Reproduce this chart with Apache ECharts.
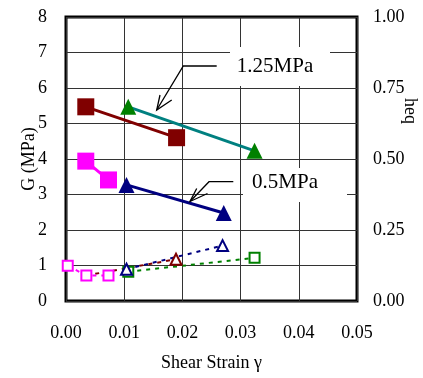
<!DOCTYPE html>
<html><head><meta charset="utf-8">
<script src="https://cdn.jsdelivr.net/npm/echarts@6/dist/echarts.min.js"></script>
<style>html,body{margin:0;padding:0;background:#fff}#c{width:423px;height:378px}</style>
</head><body><div id="c"></div>
<script>
// Shear modulus G (MPa) vs shear strain
const gRed = [[0.0034, 5.47], [0.0190, 4.60]];        // 1.25MPa, squares
const gGreen = [[0.0107, 5.47], [0.0324, 4.23]];      // 1.25MPa, triangles
const gMagenta = [[0.0034, 3.94], [0.0073, 3.41]];    // 0.5MPa, squares
const gNavy = [[0.0104, 3.27], [0.0271, 2.48]];       // 0.5MPa, triangles
// Damping ratio heq vs shear strain
const hMagenta = [[0.0003, 0.124], [0.0035, 0.090], [0.0073, 0.090]];
const hRed = [[0.0035, 0.090], [0.0189, 0.147]];
const hNavy = [[0.0104, 0.112], [0.0269, 0.195]];
const hGreen = [[0.0107, 0.103], [0.0324, 0.152]];
const xTicks = [0, 0.01, 0.02, 0.03, 0.04, 0.05];
const leftTicks = [0, 1, 2, 3, 4, 5, 6, 7, 8];
const rightTicks = [0, 0.25, 0.5, 0.75, 1];
const labels = ['1.25MPa', '0.5MPa'];

const FF = "'Liberation Serif','Times New Roman',serif";
const chart = echarts.init(document.getElementById('c'));
const lbl = {fontFamily: FF, fontSize: 18, color: '#000'};

function solid(data, lineColor, markColor, symbol, size) {
  return {type: 'line', yAxisIndex: 0, data: data, symbol: symbol, symbolSize: size,
    itemStyle: {color: markColor}, lineStyle: {color: lineColor, width: 3}, z: 5, animation: false};
}
function dotted(data, color, symbol, size) {
  return {type: 'line', yAxisIndex: 1, data: data, symbol: symbol, symbolSize: size,
    itemStyle: {color: color, borderWidth: 2}, lineStyle: {color: color, width: 2, type: [4, 5]}, z: 4, animation: false};
}
const hRedData = hRed.map((p, i) => i === 0 ? {value: p, symbol: 'none'} : {value: p});

chart.setOption({
  animation: false,
  grid: {left: 66, right: 66, top: 17, bottom: 77, outerBoundsMode: 'none', containLabel: false,
    show: true, borderColor: '#000', borderWidth: 3, backgroundColor: 'transparent'},
  xAxis: {type: 'value', min: xTicks[0], max: xTicks[xTicks.length - 1], interval: 0.01,
    axisLine: {show: false}, axisTick: {show: false},
    axisLabel: Object.assign({margin: 23, formatter: v => v.toFixed(2)}, lbl),
    splitLine: {show: true, lineStyle: {color: '#333', width: 1}},
    name: 'Shear Strain γ', nameLocation: 'middle', nameGap: 53, nameMoveOverlap: false, nameTextStyle: lbl},
  yAxis: [
    {type: 'value', min: leftTicks[0], max: leftTicks[leftTicks.length - 1], interval: 1,
      axisLine: {show: false}, axisTick: {show: false},
      axisLabel: Object.assign({margin: 19}, lbl),
      splitLine: {show: true, lineStyle: {color: '#333', width: 1}},
      name: 'G (MPa)', nameLocation: 'middle', nameGap: 28, nameMoveOverlap: false, nameTextStyle: lbl},
    {type: 'value', position: 'right', min: rightTicks[0], max: rightTicks[rightTicks.length - 1], interval: 0.25,
      axisLine: {show: false}, axisTick: {show: false},
      axisLabel: Object.assign({margin: 16, formatter: v => v.toFixed(2)}, lbl),
      splitLine: {show: false},
      name: 'heq', nameLocation: 'middle', nameGap: 44, nameRotate: -90, nameMoveOverlap: false,
      nameTextStyle: Object.assign({padding: [0, 96, 0, 0]}, lbl)}
  ],
  series: [
    dotted(hRedData, '#800000', 'emptyTriangle', 11),
    dotted(hMagenta, '#ff00ff', 'emptyRect', 10),
    dotted(hGreen, '#008000', 'emptyRect', 10),
    dotted(hNavy, '#000080', 'emptyTriangle', 11),
    solid(gRed, '#800000', '#800000', 'rect', 17),
    solid(gGreen, '#008080', '#008000', 'triangle', 16),
    solid(gMagenta, '#ff00ff', '#ff00ff', 'rect', 17),
    solid(gNavy, '#000080', '#000080', 'triangle', 16)
  ],
  graphic: [
    {type: 'rect', shape: {x: 230, y: 47, width: 100, height: 39}, style: {fill: '#fff'}, z: 10},
    {type: 'text', x: 275, y: 66, style: {text: labels[0], font: "21px " + FF, fill: '#000', align: 'center', verticalAlign: 'middle'}, z: 11},
    {type: 'polyline', shape: {points: [[216.7, 66], [183.3, 66], [156.7, 110]]}, style: {stroke: '#000', lineWidth: 1.3, fill: null}, z: 11},
    {type: 'polyline', shape: {points: [[160, 95], [156.7, 110], [171.7, 100]]}, style: {stroke: '#000', lineWidth: 1.3, fill: null}, z: 11},
    {type: 'rect', shape: {x: 243, y: 168, width: 104, height: 34}, style: {fill: '#fff'}, z: 10},
    {type: 'text', x: 285, y: 182, style: {text: labels[1], font: "21px " + FF, fill: '#000', align: 'center', verticalAlign: 'middle'}, z: 11},
    {type: 'polyline', shape: {points: [[233.3, 181.7], [209, 181.7], [190, 201.5]]}, style: {stroke: '#000', lineWidth: 1.3, fill: null}, z: 11},
    {type: 'polyline', shape: {points: [[196.7, 188.5], [190, 201.5], [207.5, 193.5]]}, style: {stroke: '#000', lineWidth: 1.3, fill: null}, z: 11}
  ]
});
</script></body></html>
